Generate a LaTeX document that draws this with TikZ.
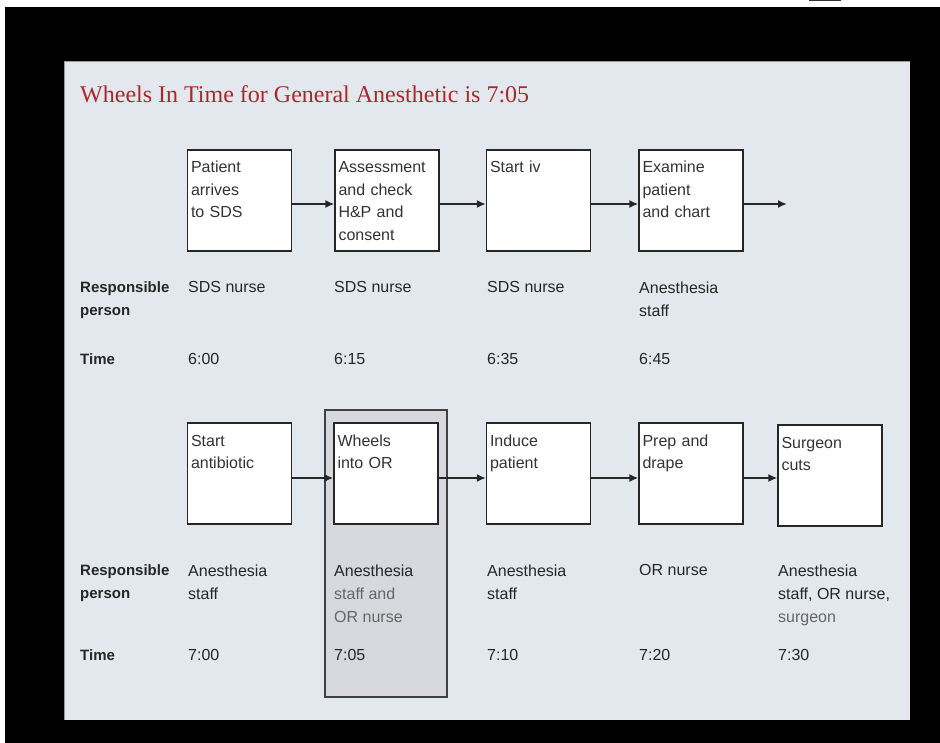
\documentclass[tikz,border=0pt]{standalone}
\usepackage{fontspec}
\setmainfont{Liberation Sans}
\newfontfamily\titlefont{Liberation Serif}
\usetikzlibrary{positioning, arrows.meta}

\definecolor{panelbg}{RGB}{227,232,239}
\definecolor{hilitebg}{RGB}{214,216,221}
\definecolor{titlered}{RGB}{172,38,42}

\begin{document}
\begin{tikzpicture}[x=1pt, y=-1pt,%
        task/.style={rectangle, draw=black!85, fill=white, line width=1.2pt, minimum width=104pt, minimum height=101pt, text width=97pt, inner sep=3pt, align=left, text height=20pt, text depth=75pt, font=\fontsize{16}{22.5}\selectfont, text=black!80},
        hilite/.style={rectangle, draw=black!75, fill=hilitebg, line width=1.2pt, minimum width=122pt, minimum height=287pt, inner sep=0pt},
        value/.style={anchor=north west, align=left, inner sep=0pt, font=\fontsize{16}{23}\selectfont, text=black!85},
        rowlabel/.style={value, font=\fontsize{15}{23}\selectfont\bfseries},
        titletext/.style={anchor=base west, inner sep=0pt, font=\titlefont\fontsize{24}{28}\selectfont, text=titlered},
        arrow/.style={-{Latex[length=9pt, width=8pt]}, line width=2.5pt, black!85}%
    ]
        \useasboundingbox (0,0) rectangle (940,743);
        \fill[white] (0,0) rectangle (940,743);
        \fill[black] (5,7) rectangle (940,743);
        \fill[black!80] (809,0) rectangle (841,1.5);
        \fill[panelbg] (64,62) rectangle (910,720);
        \draw[black!40, line width=1pt] (64,720) -- (64,62) -- (910,62);

        \node[titletext] (title) at (80,103) {Wheels In Time for General Anesthetic is 7:05};

        % upper row
        \node[task] (arrive) at (239.5,200.5) {Patient\\arrives\\to SDS};
        \node[task] (assess) at (387,200.5) {Assessment\\and check\\H\&P and\\consent};
        \node[task] (startiv) at (538.5,200.5) {Start iv};
        \node[task] (examine) at (691,200.5) {Examine\\patient\\and chart};
        \coordinate (topend) at (787,204);

        \node[rowlabel] (resp1) at (80,281.5) {Responsible\\person};
        \node[rowlabel] (time1) at (80,353.5) {Time};
        \node[value] (who1) at (188,281.5) {SDS nurse};
        \node[value] (who2) at (334,281.5) {SDS nurse};
        \node[value] (who3) at (487,281.5) {SDS nurse};
        \node[value] (who4) at (639,281.5) {Anesthesia\\staff};
        \node[value] (at1) at (188,353.5) {6:00};
        \node[value] (at2) at (334,353.5) {6:15};
        \node[value] (at3) at (487,353.5) {6:35};
        \node[value] (at4) at (639,353.5) {6:45};

        \draw[arrow] ([yshift=-3.5pt]arrive.east) -- ([yshift=-3.5pt]assess.west);
        \draw[arrow] ([yshift=-3.5pt]assess.east) -- ([yshift=-3.5pt]startiv.west);
        \draw[arrow] ([yshift=-3.5pt]startiv.east) -- ([yshift=-3.5pt]examine.west);
        \draw[arrow] ([yshift=-3.5pt]examine.east) -- (topend);

        % lower row
        \node[hilite] (focus) at (386,553.5) {};
        \node[task] (antibio) at (239.5,473.5) {Start\\antibiotic};
        \node[task] (wheels) at (386,473.5) {Wheels\\into OR};
        \node[task] (induce) at (538.5,473.5) {Induce\\patient};
        \node[task] (prep) at (691,473.5) {Prep and\\drape};
        \node[task] (cuts) at (830,475.5) {Surgeon\\cuts};

        \node[rowlabel] (resp2) at (80,564.5) {Responsible\\person};
        \node[rowlabel] (time2) at (80,649.5) {Time};
        \node[value] (who5) at (188,564.5) {Anesthesia\\staff};
        \node[value] (who6) at (334,564.5) {Anesthesia\\\textcolor{black!60}{staff and}\\\textcolor{black!60}{OR nurse}};
        \node[value] (who7) at (487,564.5) {Anesthesia\\staff};
        \node[value] (who8) at (639,564.5) {OR nurse};
        \node[value] (who9) at (778,564.5) {Anesthesia\\staff, OR nurse,\\\textcolor{black!60}{surgeon}};
        \node[value] (at5) at (188,649.5) {7:00};
        \node[value] (at6) at (334,649.5) {7:05};
        \node[value] (at7) at (487,649.5) {7:10};
        \node[value] (at8) at (639,649.5) {7:20};
        \node[value] (at9) at (778,649.5) {7:30};

        \draw[arrow] ([yshift=-4.5pt]antibio.east) -- ([yshift=-4.5pt]wheels.west);
        \draw[arrow] ([yshift=-4.5pt]wheels.east) -- ([yshift=-4.5pt]induce.west);
        \draw[arrow] ([yshift=-4.5pt]induce.east) -- ([yshift=-4.5pt]prep.west);
        \draw[arrow] ([yshift=-4.5pt]prep.east) -- ([yshift=-2.5pt]cuts.west);
    \end{tikzpicture}
\end{document}
